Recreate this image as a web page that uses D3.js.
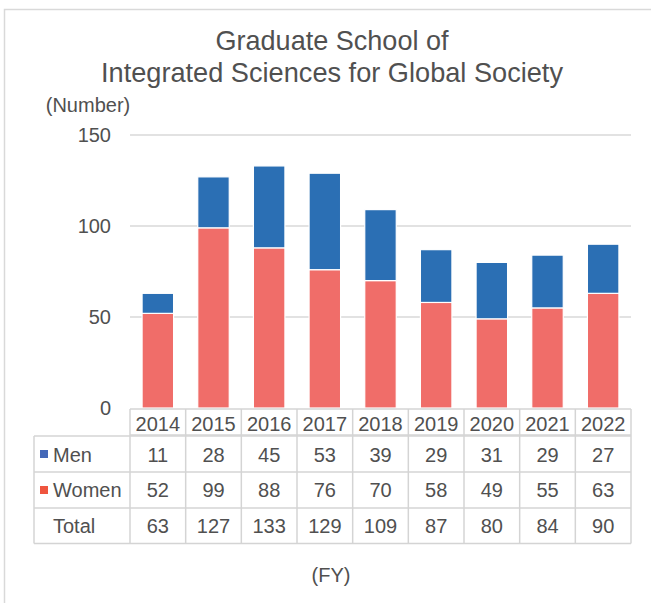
<!DOCTYPE html>
<html>
<head>
<meta charset="utf-8">
<script src="https://cdn.jsdelivr.net/npm/d3@7"></script>
<style>
  html, body { margin: 0; padding: 0; background: #fff; }
  svg { display: block; font-family: "Liberation Sans", Arial, sans-serif; }
</style>
</head>
<body>
<svg id="chart" width="651" height="603"></svg>
<script>
const years = ["2014","2015","2016","2017","2018","2019","2020","2021","2022"];
const men   = [11, 28, 45, 53, 39, 29, 31, 29, 27];
const women = [52, 99, 88, 76, 70, 58, 49, 55, 63];
const total = [63, 127, 133, 129, 109, 87, 80, 84, 90];
const yTicks = [0, 50, 100, 150];
const titleLines = ["Graduate School of", "Integrated Sciences for Global Society"];
const seriesNames = ["Men", "Women", "Total"];

const textColor = "#505050";
const gridColor = "#d9d9d9";
const tableColor = "#d4d4d4";
const barBlue = "#2b6fb4";
const barRed = "#f06d69";
const keyBlue = "#4468b8";
const keyRed = "#ef553f";

const svg = d3.select("#chart");

// outer frame
svg.append("path")
  .attr("d", "M4.5,603 L4.5,9.5 L651,9.5")
  .attr("fill", "none").attr("stroke", gridColor).attr("stroke-width", 1.5);

// title
svg.append("g").selectAll("text").data(titleLines).join("text")
  .attr("x", 332).attr("y", (d, i) => 50 + i * 32)
  .attr("text-anchor", "middle")
  .attr("font-size", 27.5).attr("fill", textColor)
  .attr("textLength", (d, i) => i === 0 ? 233 : 462)
  .attr("lengthAdjust", "spacingAndGlyphs")
  .text(d => d);

svg.append("text").attr("x", 88).attr("y", 112)
  .attr("text-anchor", "middle").attr("font-size", 20).attr("fill", textColor)
  .text("(Number)");

const left = 130, right = 631;
const x = d3.scaleBand().domain(years).range([left, right]).paddingInner(0.434).paddingOuter(0.217);
const xCol = d3.scaleBand().domain(years).range([left, right]).padding(0);
const y = d3.scaleLinear().domain([0, 150]).range([408, 135]);

// gridlines
svg.append("g").selectAll("line").data(yTicks.filter(t => t > 0)).join("line")
  .attr("x1", left).attr("x2", right)
  .attr("y1", d => y(d)).attr("y2", d => y(d))
  .attr("stroke", gridColor).attr("stroke-width", 1.5);

// y axis labels
const yAxis = d3.axisLeft(y).tickValues(yTicks).tickSize(0).tickPadding(0);
const gy = svg.append("g").attr("transform", "translate(111,0)").call(yAxis);
gy.select(".domain").remove();
gy.selectAll("text").attr("font-size", 20).attr("fill", textColor)
  .attr("font-family", "Liberation Sans, Arial, sans-serif");

// stacked bars
const stackData = years.map((yr, i) => ({ year: yr, Women: women[i], Men: men[i] }));
const stack = d3.stack().keys(["Women", "Men"])(stackData);
const colors = { Women: barRed, Men: barBlue };
svg.append("g").selectAll("g").data(stack).join("g")
  .attr("fill", d => colors[d.key])
  .selectAll("rect").data(d => d).join("rect")
  .attr("x", d => x(d.data.year))
  .attr("width", x.bandwidth())
  .attr("y", d => y(d[1]))
  .attr("height", d => y(d[0]) - y(d[1]))
  .attr("stroke", "#ffffff").attr("stroke-width", 1.2);

// data table
const tLeft = 34;
const tg = svg.append("g").attr("stroke", tableColor).attr("stroke-width", 1.5);
tg.append("line").attr("x1", left).attr("x2", right).attr("y1", 409).attr("y2", 409);
tg.append("line").attr("x1", left).attr("x2", right).attr("y1", 435).attr("y2", 435);
[436, 472, 508, 543.5].forEach(v => {
  tg.append("line").attr("x1", tLeft).attr("x2", right).attr("y1", v).attr("y2", v);
});
tg.append("line").attr("x1", tLeft).attr("x2", tLeft).attr("y1", 436).attr("y2", 543.5);
years.forEach(yr => {
  tg.append("line").attr("x1", xCol(yr)).attr("x2", xCol(yr)).attr("y1", 409).attr("y2", 543.5);
});
tg.append("line").attr("x1", right).attr("x2", right).attr("y1", 409).attr("y2", 543.5);

// header labels
svg.append("g").selectAll("text").data(years).join("text")
  .attr("x", d => xCol(d) + xCol.bandwidth() / 2).attr("y", 431)
  .attr("text-anchor", "middle").attr("font-size", 20).attr("fill", textColor)
  .text(d => d);

const rows = [men, women, total];
const rowBase = [462, 497, 533];
rows.forEach((vals, r) => {
  svg.append("g").selectAll("text").data(vals).join("text")
    .attr("x", (d, i) => xCol(years[i]) + xCol.bandwidth() / 2).attr("y", rowBase[r])
    .attr("text-anchor", "middle").attr("font-size", 20).attr("fill", textColor)
    .text(d => d);
  svg.append("text").attr("x", 53).attr("y", rowBase[r])
    .attr("font-size", 20).attr("fill", textColor).text(seriesNames[r]);
});
// legend keys
svg.append("rect").attr("x", 40).attr("y", 450).attr("width", 8).attr("height", 8).attr("fill", keyBlue);
svg.append("rect").attr("x", 40).attr("y", 486).attr("width", 8).attr("height", 8).attr("fill", keyRed);

svg.append("text").attr("x", 331).attr("y", 582)
  .attr("text-anchor", "middle").attr("font-size", 20).attr("fill", textColor)
  .text("(FY)");
</script>
</body>
</html>
